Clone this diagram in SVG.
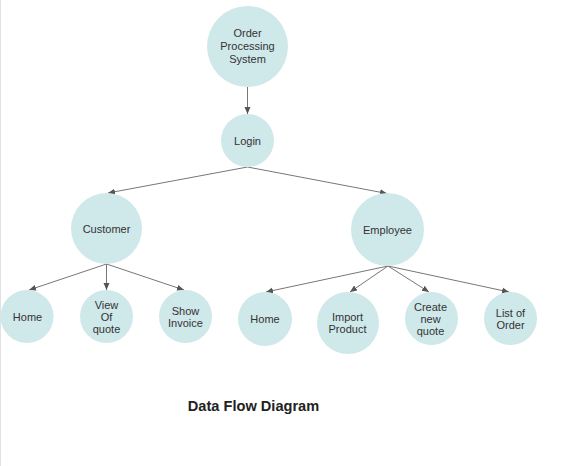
<svg xmlns="http://www.w3.org/2000/svg" width="574" height="466" viewBox="0 0 574 466">
<style>
.n{fill:#cfe8ea;stroke:none}
.t{font-family:"Liberation Sans",Arial,sans-serif;font-size:11px;fill:#333;text-anchor:middle}
.c{stroke:#777;stroke-width:1;fill:none;marker-end:url(#a)}
.title{font-family:"Liberation Sans",Arial,sans-serif;font-size:14.6px;font-weight:bold;fill:#222;text-anchor:middle}
</style>
<defs>
<marker id="a" viewBox="0 0 8 8" refX="7" refY="4" markerWidth="8" markerHeight="8" markerUnits="userSpaceOnUse" orient="auto">
<path d="M0,1 L7,4 L0,7 Z" fill="#555"/>
</marker>
</defs>
<rect width="574" height="466" fill="#fff"/>
<line x1="0.5" y1="0" x2="0.5" y2="466" stroke="#e2e2e2"/>
<g id="connectors">
<line class="c" x1="247.5" y1="87" x2="247.5" y2="114"/>
<line class="c" x1="247.5" y1="167" x2="108" y2="193"/>
<line class="c" x1="247.5" y1="167" x2="387" y2="193.5"/>
<line class="c" x1="106.5" y1="264" x2="29" y2="290"/>
<line class="c" x1="106.5" y1="264" x2="106.5" y2="290"/>
<line class="c" x1="106.5" y1="264" x2="184" y2="290"/>
<line class="c" x1="388" y1="266" x2="266" y2="292"/>
<line class="c" x1="388" y1="266" x2="350" y2="292"/>
<line class="c" x1="388" y1="266" x2="429" y2="292"/>
<line class="c" x1="388" y1="266" x2="509" y2="292"/>
</g>
<g id="ops"><circle class="n" cx="247.5" cy="46.5" r="40.5"/><text class="t" x="247.5" y="37">Order</text><text class="t" x="247.5" y="50">Processing</text><text class="t" x="247.5" y="63">System</text></g>
<g id="login"><circle class="n" cx="247.5" cy="140.5" r="26.5"/><text class="t" x="247.5" y="145">Login</text></g>
<g id="customer"><circle class="n" cx="106.5" cy="228.5" r="35.5"/><text class="t" x="106.5" y="233">Customer</text></g>
<g id="employee"><circle class="n" cx="387.5" cy="229.5" r="36.5"/><text class="t" x="387.5" y="234">Employee</text></g>
<g id="home1"><circle class="n" cx="27" cy="316.5" r="26.5"/><text class="t" x="27.5" y="321">Home</text></g>
<g id="viewquote"><circle class="n" cx="106.5" cy="316.5" r="26.5"/><text class="t" x="106.5" y="309">View</text><text class="t" x="106.5" y="321">Of</text><text class="t" x="106.5" y="333">quote</text></g>
<g id="showinvoice"><circle class="n" cx="185.5" cy="316.5" r="26.5"/><text class="t" x="185.5" y="315">Show</text><text class="t" x="185.5" y="327">Invoice</text></g>
<g id="home2"><circle class="n" cx="265" cy="319" r="27"/><text class="t" x="265" y="323">Home</text></g>
<g id="import"><circle class="n" cx="348" cy="323" r="31"/><text class="t" x="347.5" y="321">Import</text><text class="t" x="347.5" y="333">Product</text></g>
<g id="createquote"><circle class="n" cx="431.5" cy="318.5" r="26.5"/><text class="t" x="430.5" y="311">Create</text><text class="t" x="430.5" y="323">new</text><text class="t" x="430.5" y="335">quote</text></g>
<g id="listorder"><circle class="n" cx="510.5" cy="318.5" r="26.5"/><text class="t" x="510.5" y="317">List of</text><text class="t" x="510.5" y="329">Order</text></g>
<text class="title" x="253.5" y="411">Data Flow Diagram</text>
</svg>
